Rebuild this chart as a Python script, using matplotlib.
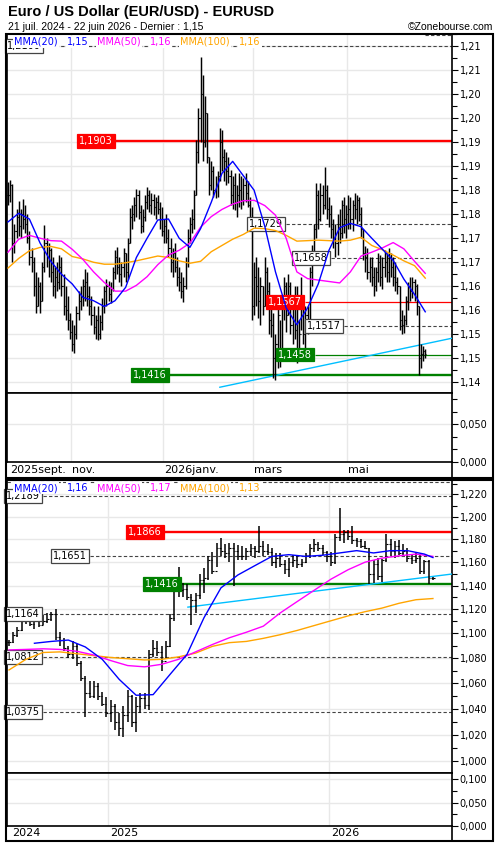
import numpy as np
import pandas as pd
import matplotlib
matplotlib.use('Agg')
import matplotlib.pyplot as plt
from matplotlib import transforms
from matplotlib.patches import Rectangle
from matplotlib.lines import Line2D
from matplotlib.ticker import FixedLocator, FuncFormatter, NullFormatter, MultipleLocator
from decimal import Decimal, ROUND_HALF_UP

plt.rcParams['font.family'] = 'DejaVu Sans'

# ---------------- donnees journalieres (graphique du haut) ----------------
day_start = '2025-09-22'
day_high = [1.1818, 1.1822, 1.1812, 1.1730, 1.1760, 1.1778, 1.1760, 1.1782, 1.1770, 1.1750,
            1.1715, 1.1680, 1.1660, 1.1630, 1.1620, 1.1610, 1.1650, 1.1728, 1.1700, 1.1690,
            1.1680, 1.1660, 1.1640, 1.1650, 1.1665, 1.1660, 1.1625, 1.1600, 1.1580, 1.1545,
            1.1530, 1.1520, 1.1560, 1.1590, 1.1600, 1.1615, 1.1635, 1.1630, 1.1600, 1.1580,
            1.1560, 1.1540, 1.1560, 1.1540, 1.1575, 1.1600, 1.1615, 1.1612, 1.1610, 1.1640,
            1.1675, 1.1682, 1.1660, 1.1650, 1.1680, 1.1670, 1.1700, 1.1763, 1.1770, 1.1785,
            1.1803, 1.1800, 1.1770, 1.1760, 1.1790, 1.1807, 1.1800, 1.1795, 1.1792, 1.1785,
            1.1790, 1.1775, 1.1765, 1.1740, 1.1750, 1.1720, 1.1700, 1.1680, 1.1690, 1.1660,
            1.1640, 1.1630, 1.1620, 1.1660, 1.1720, 1.1745, 1.1760, 1.1800, 1.1904, 1.1970,
            1.2078, 1.2040, 1.1995, 1.1960, 1.1870, 1.1860, 1.1850, 1.1830, 1.1840, 1.1929,
            1.1925, 1.1885, 1.1880, 1.1870, 1.1842, 1.1830, 1.1835, 1.1810, 1.1835, 1.1830,
            1.1825, 1.1835, 1.1820, 1.1786, 1.1765, 1.1650, 1.1660, 1.1640, 1.1620, 1.1600,
            1.1660, 1.1640, 1.1610, 1.1570, 1.1545, 1.1500, 1.1560, 1.1530, 1.1580, 1.1620,
            1.1610, 1.1625, 1.1610, 1.1580, 1.1600, 1.1600, 1.1530, 1.1620, 1.1570, 1.1560,
            1.1560, 1.1640, 1.1686, 1.1730, 1.1815, 1.1800, 1.1815, 1.1810, 1.1848, 1.1810,
            1.1786, 1.1770, 1.1740, 1.1730, 1.1750, 1.1760, 1.1780, 1.1786, 1.1770, 1.1790,
            1.1786, 1.1780, 1.1794, 1.1790, 1.1785, 1.1765, 1.1720, 1.1683, 1.1680, 1.1660,
            1.1662, 1.1640, 1.1640, 1.1670, 1.1665, 1.1660, 1.1676, 1.1670, 1.1680, 1.1670,
            1.1660, 1.1650, 1.1620, 1.1600, 1.1550, 1.1540, 1.1580, 1.1610, 1.1619, 1.1620,
            1.1615, 1.1605, 1.1560, 1.1480, 1.1475, 1.1470]
day_low = [1.1770, 1.1775, 1.1650, 1.1670, 1.1700, 1.1705, 1.1700, 1.1720, 1.1710, 1.1690,
           1.1645, 1.1630, 1.1580, 1.1545, 1.1560, 1.1545, 1.1570, 1.1630, 1.1640, 1.1620,
           1.1610, 1.1580, 1.1575, 1.1590, 1.1595, 1.1580, 1.1540, 1.1530, 1.1510, 1.1490,
           1.1465, 1.1462, 1.1490, 1.1530, 1.1550, 1.1560, 1.1570, 1.1560, 1.1540, 1.1520,
           1.1500, 1.1490, 1.1488, 1.1490, 1.1510, 1.1545, 1.1560, 1.1570, 1.1565, 1.1590,
           1.1615, 1.1625, 1.1610, 1.1600, 1.1620, 1.1610, 1.1615, 1.1690, 1.1720, 1.1735,
           1.1745, 1.1740, 1.1710, 1.1712, 1.1735, 1.1760, 1.1755, 1.1750, 1.1748, 1.1740,
           1.1750, 1.1720, 1.1705, 1.1690, 1.1690, 1.1660, 1.1630, 1.1620, 1.1630, 1.1600,
           1.1590, 1.1575, 1.1568, 1.1595, 1.1640, 1.1690, 1.1710, 1.1720, 1.1790, 1.1856,
           1.1900, 1.1860, 1.1890, 1.1856, 1.1790, 1.1800, 1.1785, 1.1783, 1.1785, 1.1820,
           1.1840, 1.1820, 1.1810, 1.1815, 1.1770, 1.1760, 1.1758, 1.1745, 1.1765, 1.1760,
           1.1770, 1.1775, 1.1765, 1.1720, 1.1530, 1.1540, 1.1560, 1.1535, 1.1520, 1.1540,
           1.1560, 1.1570, 1.1500, 1.1495, 1.1410, 1.1405, 1.1430, 1.1432, 1.1470, 1.1530,
           1.1505, 1.1540, 1.1500, 1.1480, 1.1490, 1.1440, 1.1460, 1.1510, 1.1480, 1.1470,
           1.1500, 1.1520, 1.1600, 1.1660, 1.1700, 1.1720, 1.1735, 1.1750, 1.1760, 1.1740,
           1.1724, 1.1700, 1.1680, 1.1660, 1.1665, 1.1690, 1.1700, 1.1710, 1.1700, 1.1720,
           1.1720, 1.1715, 1.1740, 1.1730, 1.1735, 1.1700, 1.1654, 1.1630, 1.1615, 1.1610,
           1.1600, 1.1580, 1.1590, 1.1610, 1.1600, 1.1595, 1.1620, 1.1610, 1.1610, 1.1620,
           1.1600, 1.1590, 1.1585, 1.1510, 1.1500, 1.1502, 1.1520, 1.1550, 1.1570, 1.1575,
           1.1570, 1.1540, 1.1415, 1.1430, 1.1445, 1.1450]
day_close = [1.1790, 1.1810, 1.1690, 1.1715, 1.1745, 1.1725, 1.1750, 1.1740, 1.1730, 1.1700,
             1.1660, 1.1650, 1.1600, 1.1560, 1.1600, 1.1570, 1.1640, 1.1690, 1.1660, 1.1675,
             1.1630, 1.1600, 1.1620, 1.1610, 1.1640, 1.1600, 1.1560, 1.1550, 1.1530, 1.1505,
             1.1480, 1.1500, 1.1545, 1.1570, 1.1580, 1.1600, 1.1610, 1.1580, 1.1560, 1.1540,
             1.1515, 1.1530, 1.1500, 1.1525, 1.1560, 1.1590, 1.1600, 1.1585, 1.1595, 1.1630,
             1.1660, 1.1640, 1.1625, 1.1640, 1.1670, 1.1630, 1.1690, 1.1745, 1.1750, 1.1770,
             1.1790, 1.1755, 1.1725, 1.1745, 1.1775, 1.1790, 1.1770, 1.1780, 1.1765, 1.1775,
             1.1760, 1.1740, 1.1715, 1.1725, 1.1700, 1.1680, 1.1650, 1.1670, 1.1640, 1.1620,
             1.1610, 1.1590, 1.1600, 1.1650, 1.1700, 1.1730, 1.1740, 1.1790, 1.1880, 1.1950,
             1.2000, 1.1900, 1.1960, 1.1870, 1.1810, 1.1840, 1.1800, 1.1810, 1.1830, 1.1900,
             1.1870, 1.1860, 1.1840, 1.1830, 1.1790, 1.1810, 1.1775, 1.1790, 1.1800, 1.1780,
             1.1810, 1.1795, 1.1770, 1.1730, 1.1560, 1.1620, 1.1600, 1.1570, 1.1600, 1.1560,
             1.1630, 1.1590, 1.1530, 1.1520, 1.1450, 1.1480, 1.1540, 1.1470, 1.1560, 1.1600,
             1.1540, 1.1600, 1.1520, 1.1560, 1.1510, 1.1470, 1.1500, 1.1560, 1.1500, 1.1540,
             1.1520, 1.1630, 1.1670, 1.1720, 1.1790, 1.1740, 1.1790, 1.1770, 1.1800, 1.1760,
             1.1750, 1.1720, 1.1700, 1.1690, 1.1720, 1.1710, 1.1770, 1.1740, 1.1750, 1.1760,
             1.1740, 1.1770, 1.1760, 1.1780, 1.1750, 1.1720, 1.1670, 1.1660, 1.1630, 1.1640,
             1.1620, 1.1600, 1.1630, 1.1650, 1.1620, 1.1640, 1.1650, 1.1630, 1.1660, 1.1640,
             1.1620, 1.1610, 1.1600, 1.1530, 1.1520, 1.1530, 1.1570, 1.1600, 1.1590, 1.1610,
             1.1600, 1.1560, 1.1450, 1.1460, 1.1465, 1.1460]

# moyennes mobiles lues tous les 5 jours
ma_day_step = 5
ma20_day = [1.1734, 1.1752, 1.1740, 1.1690, 1.1652, 1.1625, 1.1605, 1.1577, 1.1570, 1.1558,
            1.1570, 1.1598, 1.1660, 1.1700, 1.1738, 1.1740, 1.1700, 1.1681, 1.1720, 1.1775,
            1.1835, 1.1860, 1.1830, 1.1800, 1.1725, 1.1630, 1.1555, 1.1520, 1.1555, 1.1605,
            1.1675, 1.1722, 1.1731, 1.1724, 1.1700, 1.1677, 1.1654, 1.1615, 1.1583, 1.1547]
ma50_day = [1.1671, 1.1698, 1.1706, 1.1700, 1.1695, 1.1694, 1.1677, 1.1656, 1.1630, 1.1608,
            1.1590, 1.1590, 1.1602, 1.1620, 1.1645, 1.1665, 1.1675, 1.1690, 1.1723, 1.1745,
            1.1760, 1.1771, 1.1778, 1.1779, 1.1768, 1.1748, 1.1700, 1.1630, 1.1616, 1.1613,
            1.1610, 1.1607, 1.1630, 1.1663, 1.1671, 1.1680, 1.1691, 1.1678, 1.1652, 1.1627]
ma100_day = [1.1638, 1.1658, 1.1674, 1.1681, 1.1683, 1.1678, 1.1662, 1.1657, 1.1650, 1.1646,
             1.1646, 1.1649, 1.1653, 1.1658, 1.1663, 1.1660, 1.1653, 1.1648, 1.1652, 1.1672,
             1.1685, 1.1698, 1.1708, 1.1721, 1.1720, 1.1716, 1.1706, 1.1694, 1.1695, 1.1696,
             1.1695, 1.1694, 1.1696, 1.1702, 1.1685, 1.1676, 1.1665, 1.1653, 1.1643, 1.1617]

# niveaux (valeur, style, debut de la ligne en barres, etiquette)
day_levels = [(1.2122, 'dash', 195, ''),
              (1.2100, 'dash', 16.8, '1,2100'),
              (1.1903, 'red', 50.5, '1,1903'),
              (1.1729, 'dash', 130, '1,1729'),
              (1.1658, 'dash', 151, '1,1658'),
              (1.1567, 'redthin', 139, '1,1567'),
              (1.1517, 'dash', 157, '1,1517'),
              (1.1458, 'greenthin', 143.5, '1,1458'),
              (1.1416, 'green', 75.7, '1,1416')]
day_trend_x = [99, 207.5]
day_trend_y = [1.1390, 1.1492]

# ---------------- donnees hebdomadaires (graphique du bas) ----------------
week_start = '2024-07-22'
week_high = [1.0950, 1.1010, 1.1050, 1.1120, 1.1180, 1.1170, 1.1140, 1.1130, 1.1150, 1.1170,
             1.1175, 1.1200, 1.1010, 1.0960, 1.0900, 1.0940, 1.0910, 1.0780, 1.0660, 1.0620,
             1.0620, 1.0600, 1.0530, 1.0490, 1.0470, 1.0440, 1.0370, 1.0420, 1.0546, 1.0510,
             1.0490, 1.0520, 1.0520, 1.0866, 1.0946, 1.0940, 1.0900, 1.0940, 1.1164, 1.1380,
             1.1560, 1.1420, 1.1410, 1.1330, 1.1340, 1.1500, 1.1550, 1.1650, 1.1690, 1.1770,
             1.1815, 1.1760, 1.1770, 1.1770, 1.1750, 1.1740, 1.1720, 1.1760, 1.1740, 1.1914,
             1.1780, 1.1760, 1.1720, 1.1680, 1.1680, 1.1620, 1.1640, 1.1660, 1.1650, 1.1630,
             1.1680, 1.1760, 1.1800, 1.1774, 1.1750, 1.1700, 1.1690, 1.1850, 1.2080, 1.1880,
             1.1880, 1.1920, 1.1810, 1.1800, 1.1780, 1.1720, 1.1620, 1.1640, 1.1630, 1.1846,
             1.1800, 1.1780, 1.1790, 1.1760, 1.1720, 1.1670, 1.1680, 1.1660, 1.1620, 1.1615,
             1.1475]
week_low = [1.0900, 1.0925, 1.0970, 1.1020, 1.1080, 1.1060, 1.1040, 1.1050, 1.1070, 1.1090,
            1.1100, 1.0950, 1.0900, 1.0860, 1.0800, 1.0790, 1.0740, 1.0620, 1.0340, 1.0480,
            1.0480, 1.0470, 1.0420, 1.0340, 1.0300, 1.0240, 1.0190, 1.0184, 1.0300, 1.0260,
            1.0220, 1.0370, 1.0400, 1.0390, 1.0810, 1.0820, 1.0700, 1.0790, 1.0890, 1.1100,
            1.1300, 1.1300, 1.1280, 1.1070, 1.1170, 1.1290, 1.1340, 1.1450, 1.1500, 1.1560,
            1.1650, 1.1640, 1.1600, 1.1400, 1.1620, 1.1620, 1.1620, 1.1650, 1.1640, 1.1680,
            1.1650, 1.1660, 1.1570, 1.1550, 1.1560, 1.1500, 1.1475, 1.1560, 1.1550, 1.1560,
            1.1590, 1.1640, 1.1690, 1.1700, 1.1660, 1.1600, 1.1570, 1.1580, 1.1780, 1.1770,
            1.1790, 1.1760, 1.1730, 1.1720, 1.1710, 1.1416, 1.1420, 1.1450, 1.1430, 1.1600,
            1.1650, 1.1640, 1.1660, 1.1650, 1.1600, 1.1580, 1.1595, 1.1500, 1.1502, 1.1415,
            1.1450]
week_close = [1.0930, 1.0990, 1.1030, 1.1100, 1.1150, 1.1080, 1.1120, 1.1070, 1.1100, 1.1120,
              1.1160, 1.0970, 1.0950, 1.0880, 1.0830, 1.0900, 1.0760, 1.0640, 1.0520, 1.0500,
              1.0580, 1.0500, 1.0440, 1.0370, 1.0420, 1.0300, 1.0250, 1.0350, 1.0500, 1.0300,
              1.0420, 1.0480, 1.0430, 1.0830, 1.0880, 1.0850, 1.0780, 1.0900, 1.1130, 1.1350,
              1.1360, 1.1370, 1.1300, 1.1280, 1.1320, 1.1450, 1.1460, 1.1620, 1.1520, 1.1720,
              1.1700, 1.1680, 1.1720, 1.1700, 1.1650, 1.1650, 1.1700, 1.1720, 1.1700, 1.1740,
              1.1700, 1.1690, 1.1600, 1.1640, 1.1580, 1.1540, 1.1600, 1.1620, 1.1580, 1.1600,
              1.1660, 1.1720, 1.1760, 1.1720, 1.1690, 1.1650, 1.1600, 1.1820, 1.1850, 1.1860,
              1.1830, 1.1790, 1.1780, 1.1740, 1.1720, 1.1500, 1.1580, 1.1480, 1.1620, 1.1760,
              1.1700, 1.1740, 1.1680, 1.1700, 1.1640, 1.1620, 1.1640, 1.1520, 1.1610, 1.1465,
              1.1460]

ma20_week_idx = list(range(6, 99, 4)) + [100]
ma20_week = [1.0920, 1.0935, 1.0946, 1.0890, 1.0790, 1.0630, 1.0505, 1.0510, 1.0670, 1.0830,
             1.1130, 1.1380, 1.1490, 1.1570, 1.1650, 1.1665, 1.1650, 1.1660, 1.1680, 1.1700,
             1.1680, 1.1700, 1.1700, 1.1670, 1.1640]
ma_week_step = 4
ma50_week = [1.0866, 1.0870, 1.0875, 1.0870, 1.0855, 1.0825, 1.0780, 1.0740, 1.0730, 1.0750,
             1.0790, 1.0850, 1.0910, 1.0965, 1.1010, 1.1060, 1.1170, 1.1265, 1.1360, 1.1455,
             1.1535, 1.1600, 1.1635, 1.1655, 1.1670, 1.1650]
ma100_week = [1.0705, 1.0790, 1.0845, 1.0850, 1.0835, 1.0820, 1.0805, 1.0795, 1.0785, 1.0790,
              1.0810, 1.0840, 1.0895, 1.0925, 1.0935, 1.0960, 1.0990, 1.1025, 1.1065, 1.1105,
              1.1145, 1.1180, 1.1210, 1.1250, 1.1280, 1.1290]

week_levels = [(1.2310, 'dash', -0.5, ''),
               (1.2189, 'dash', 8.0, '1,2189'),
               (1.1866, 'red', 36.8, '1,1866'),
               (1.1651, 'dash', 19.1, '1,1651'),
               (1.1416, 'green', 40.8, '1,1416'),
               (1.1164, 'dash', 8.0, '1,1164'),
               (1.0812, 'dash', 8.0, '1,0812'),
               (1.0375, 'dash', 8.0, '1,0375')]
week_trend_x = [42.2, 104.5]
week_trend_y = [1.1218, 1.1498]

BLUE, MAGENTA, ORANGE, CYAN = '#0000ff', '#ff00ff', '#ffa500', '#00bfff'
GRID = '#e8e8e8'

def comma(v, nd):
    q = Decimal(str(round(v, 6))).quantize(Decimal(1).scaleb(-nd), rounding=ROUND_HALF_UP)
    return str(q).replace('.', ',')

W, H = 500, 850
fig = plt.figure(figsize=(W / 100, H / 100), dpi=100)

def fbox(x0, y0, x1, y1):  # pixels -> coordonnees figure
    return [x0 / W, 1 - y1 / H, (x1 - x0) / W, (y1 - y0) / H]

ax1 = fig.add_axes(fbox(7, 34, 452, 393))
ax1s = fig.add_axes(fbox(7, 393, 452, 462), sharex=ax1)
ax2 = fig.add_axes(fbox(7, 481, 452, 773))
ax2s = fig.add_axes(fbox(7, 773, 452, 826), sharex=ax2)

for ax in (ax1, ax1s, ax2, ax2s):
    ax.yaxis.tick_right()
    ax.tick_params(axis='y', which='major', direction='out', length=4, width=0.8, labelsize=7, pad=1.5)
    ax.tick_params(axis='y', which='minor', direction='out', length=3.5, width=0.8)
    ax.tick_params(axis='x', which='both', bottom=False, top=False, labelbottom=False)
    ax.grid(axis='y', which='major', color=GRID, lw=1, zorder=0)
    ax.set_axisbelow(True)
    for s in ax.spines.values():
        s.set_linewidth(1.2)
ax2.spines['top'].set_visible(False)

def draw_ohlc(ax, h, l, c, w, lw):
    x = np.arange(len(c))
    c = np.asarray(c)
    o = np.r_[c[0], c[:-1]]
    ax.vlines(x, l, h, color='black', lw=lw, zorder=4)
    ax.hlines(o, x - w, x, color='black', lw=0.8, zorder=4)
    ax.hlines(c, x, x + w, color='black', lw=0.8, zorder=4)

def draw_level(ax, y, kind, x0, xmax, label):
    st = {'dash': ('#444444', 0.8, (0, (3, 2)), 'white', '#444444', 'black'),
          'red': ('#ff0000', 1.7, '-', '#ff0000', '#ff0000', 'white'),
          'redthin': ('#ff0000', 0.9, '-', '#ff0000', '#ff0000', 'white'),
          'green': ('#008000', 1.7, '-', '#008000', '#008000', 'white'),
          'greenthin': ('#008000', 0.9, '-', '#008000', '#008000', 'white')}[kind]
    ax.plot([x0, xmax], [y, y], color=st[0], lw=st[1], ls=st[2], zorder=2, solid_capstyle='butt')
    if label:
        ax.annotate(label, (x0, y), xytext=(-2.2, 0), textcoords='offset points',
                    ha='right', va='center', fontsize=7, color=st[5], zorder=5,
                    bbox=dict(boxstyle='square,pad=0.2', fc=st[3], ec=st[4], lw=0.9))

def legend_row(ax, y_axes, items):
    renderer = fig.canvas.get_renderer()
    t = transforms.offset_copy(ax.transAxes, fig=fig, x=7, y=0, units='dots')
    for s, c in items:
        txt = ax.text(0, y_axes, s, color=c, transform=t, fontsize=7, va='center', ha='left',
                      zorder=8, bbox=dict(fc='white', ec='none', pad=0.8))
        ex = txt.get_window_extent(renderer)
        t = transforms.offset_copy(txt.get_transform(), fig=fig, x=ex.width + 9, units='dots')

# ---------------- graphique du haut ----------------
n_day = len(day_close)
xmax1 = 207.5
ax1.set_xlim(-0.47, xmax1)
ax1.set_ylim(1.1378, 1.2125)
ax1.yaxis.set_major_locator(MultipleLocator(0.005))
ax1.yaxis.set_minor_locator(MultipleLocator(0.0025))
ax1.yaxis.set_major_formatter(FuncFormatter(lambda v, p: comma(v, 2)))

dates = pd.bdate_range(day_start, periods=n_day)
month_names = {11: 'nov.', 1: 'janv.', 3: 'mars', 5: 'mai'}
tr_top = transforms.blended_transform_factory(ax1s.transData, ax1s.transAxes)
for i in range(1, n_day):
    m = dates[i].month
    if m != dates[i - 1].month and m in month_names:
        lab = month_names[m] if m != 1 else str(dates[i].year) + month_names[m]
        for ax in (ax1, ax1s):
            ax.axvline(i - 0.5, color=GRID, lw=1, zorder=0)
        ax1s.text(i - 0.2, -0.11, lab, transform=tr_top, fontsize=8, va='center', ha='left')
ax1s.text(0.006, -0.11, '2025sept.', transform=ax1s.transAxes, fontsize=8, va='center', ha='left')

for val, kind, x0, lab in day_levels:
    draw_level(ax1, val, kind, x0, xmax1, lab)
ax1.plot(day_trend_x, day_trend_y, color=CYAN, lw=1, zorder=3)
draw_ohlc(ax1, day_high, day_low, day_close, 0.5, 1.05)
mx = np.arange(0, n_day, ma_day_step)
ax1.plot(mx, ma100_day, color=ORANGE, lw=1, zorder=5)
ax1.plot(mx, ma50_day, color=MAGENTA, lw=1, zorder=5)
ax1.plot(mx, ma20_day, color=BLUE, lw=1, zorder=5)
legend_row(ax1, 0.978, [('MMA(20)', BLUE), (comma(ma20_day[-1], 2), BLUE),
                        ('MMA(50)', MAGENTA), (comma(ma50_day[-1], 2), MAGENTA),
                        ('MMA(100)', ORANGE), (comma(ma100_day[-1], 2), ORANGE)])

ax1s.set_ylim(0, 0.0919)
ax1s.yaxis.set_major_locator(FixedLocator([0, 0.05]))
ax1s.yaxis.set_minor_locator(MultipleLocator(0.05 / 3))
ax1s.yaxis.set_major_formatter(FuncFormatter(lambda v, p: comma(v, 3)))

# ---------------- graphique du bas ----------------
n_week = len(week_close)
xmax2 = 104.5
ax2.set_xlim(-0.47, xmax2)
ax2.set_yscale('log')
ax2.set_ylim(0.9914, 1.2323)
ax2.yaxis.set_major_locator(FixedLocator(np.arange(1.00, 1.2201, 0.02)))
ax2.yaxis.set_minor_locator(FixedLocator(np.arange(0.99, 1.2301, 0.01)))
ax2.yaxis.set_major_formatter(FuncFormatter(lambda v, p: comma(v, 3)))
ax2.yaxis.set_minor_formatter(NullFormatter())

w0 = pd.Timestamp(week_start)
tr_bot = transforms.blended_transform_factory(ax2s.transData, ax2s.transAxes)
for yr in (2025, 2026):
    k = (pd.Timestamp(f'{yr}-01-01') - w0).days / 7
    for ax in (ax2, ax2s):
        ax.axvline(k, color=GRID, lw=1, zorder=0)
    ax2s.text(k + 0.5, -0.14, str(yr), transform=tr_bot, fontsize=8, va='center', ha='left')
ax2s.text(0.011, -0.14, '2024', transform=ax2s.transAxes, fontsize=8, va='center', ha='left')

for val, kind, x0, lab in week_levels:
    draw_level(ax2, val, kind, x0, xmax2, lab)
ax2.plot(week_trend_x, week_trend_y, color=CYAN, lw=1, zorder=3)
draw_ohlc(ax2, week_high, week_low, week_close, 0.4, 1.1)
wx = np.arange(0, n_week, ma_week_step)
ax2.plot(wx, ma100_week, color=ORANGE, lw=1, zorder=5)
ax2.plot(wx, ma50_week, color=MAGENTA, lw=1, zorder=5)
ax2.plot(ma20_week_idx, ma20_week, color=BLUE, lw=1, zorder=5)
legend_row(ax2, 0.975, [('MMA(20)', BLUE), (comma(ma20_week[-1], 2), BLUE),
                        ('MMA(50)', MAGENTA), (comma(ma50_week[-1], 2), MAGENTA),
                        ('MMA(100)', ORANGE), (comma(ma100_week[-1], 2), ORANGE)])

ax2s.set_ylim(0, 0.1128)
ax2s.yaxis.set_major_locator(FixedLocator([0, 0.05, 0.10]))
ax2s.yaxis.set_minor_locator(MultipleLocator(0.025))
ax2s.yaxis.set_major_formatter(FuncFormatter(lambda v, p: comma(v, 3)))

# ---------------- cadres et titres ----------------
for (x0, y0, x1, y1) in [(6, 33.5, 493, 477.5), (6, 479.5, 493, 841)]:
    b = fbox(x0, y0, x1, y1)
    fig.add_artist(Rectangle((b[0], b[1]), b[2], b[3], transform=fig.transFigure,
                             fill=False, ec='black', lw=1.5))
for (ya, yb) in [(462, 477.5), (826, 841)]:
    fig.add_artist(Line2D([452 / W, 452 / W], [1 - yb / H, 1 - ya / H], color='black', lw=1.2))

fig.text(8 / W, 1 - 12 / H, 'Euro / US Dollar (EUR/USD) - EURUSD', fontsize=10.5,
         fontweight='bold', family='Liberation Sans', va='center', ha='left')
fig.text(8 / W, 1 - 26.5 / H, f'21 juil. 2024 - 22 juin 2026 - Dernier : {comma(day_close[-1], 2)}',
         fontsize=7.5, family='Liberation Sans', va='center', ha='left')
fig.text(493 / W, 1 - 26.5 / H, '\u00a9Zonebourse.com', fontsize=7.5, family='Liberation Sans',
         va='center', ha='right')

fig.savefig('out.png', dpi=100)
